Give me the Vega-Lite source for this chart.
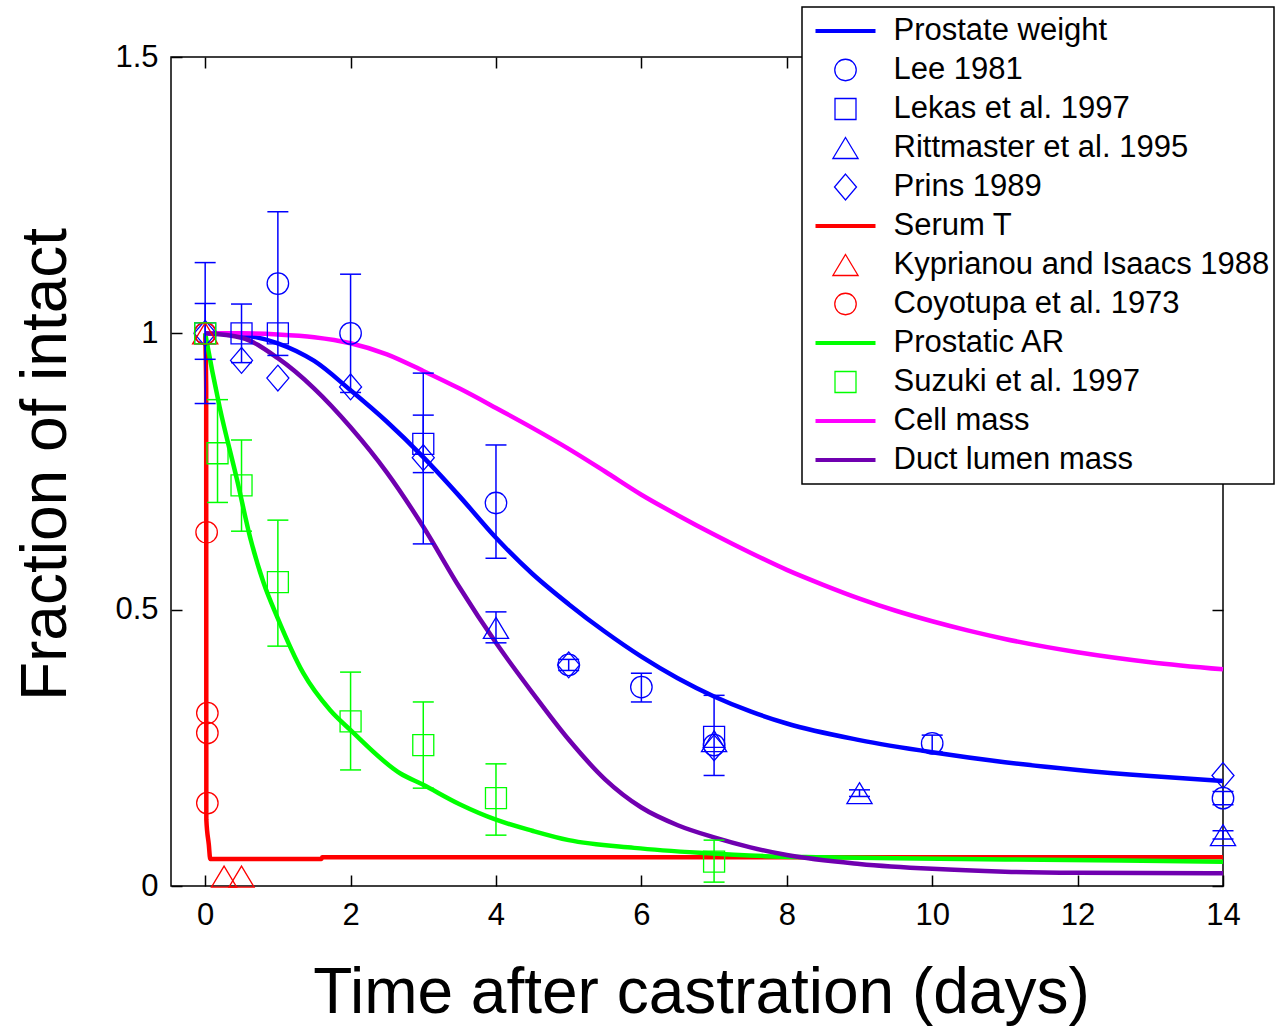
{
  "$schema": "https://vega.github.io/schema/vega-lite/v6.json",
  "width": 1052,
  "height": 829,
  "autosize": {"type": "none"},
  "padding": {"left": 171, "top": 57, "right": 58, "bottom": 140},
  "background": "white",
  "config": {
    "view": {"stroke": "black", "strokeWidth": 1.5},
    "axis": {
      "grid": false, "domain": false, "tickColor": "black", "tickWidth": 1.5, "tickSize": -11,
      "labelColor": "black", "labelFont": "Liberation Sans", "labelFontSize": 31,
      "labelFlush": false, "labelOverlap": false,
      "titleFont": "Liberation Sans", "titleFontSize": 64, "titleFontWeight": "normal", "titleColor": "black"
    },
    "legend": {
      "padding": 4.5, "strokeColor": "black", "strokeWidth": 1.5, "fillColor": "white",
      "symbolSize": 3600, "symbolStrokeWidth": 1.3, "symbolOffset": 8, "labelOffset": 17,
      "clipHeight": 39, "rowPadding": 0, "labelFont": "Liberation Sans", "labelFontSize": 31,
      "labelColor": "black", "labelLimit": 600
    }
  },
  "datasets": {
    "curves": [
      {"series": "Prostate weight", "t": 0, "v": 1},
      {"series": "Prostate weight", "t": 0.5, "v": 0.997},
      {"series": "Prostate weight", "t": 1, "v": 0.982},
      {"series": "Prostate weight", "t": 1.5, "v": 0.95},
      {"series": "Prostate weight", "t": 2, "v": 0.897},
      {"series": "Prostate weight", "t": 2.5, "v": 0.84},
      {"series": "Prostate weight", "t": 3, "v": 0.776},
      {"series": "Prostate weight", "t": 3.5, "v": 0.705},
      {"series": "Prostate weight", "t": 4, "v": 0.63},
      {"series": "Prostate weight", "t": 4.5, "v": 0.565},
      {"series": "Prostate weight", "t": 5, "v": 0.51},
      {"series": "Prostate weight", "t": 5.5, "v": 0.46},
      {"series": "Prostate weight", "t": 6, "v": 0.415},
      {"series": "Prostate weight", "t": 6.5, "v": 0.376},
      {"series": "Prostate weight", "t": 7, "v": 0.343},
      {"series": "Prostate weight", "t": 7.5, "v": 0.316},
      {"series": "Prostate weight", "t": 8, "v": 0.294},
      {"series": "Prostate weight", "t": 9, "v": 0.264},
      {"series": "Prostate weight", "t": 10, "v": 0.242},
      {"series": "Prostate weight", "t": 11, "v": 0.224},
      {"series": "Prostate weight", "t": 12, "v": 0.21},
      {"series": "Prostate weight", "t": 13, "v": 0.199},
      {"series": "Prostate weight", "t": 14, "v": 0.19},
      {"series": "Serum T", "t": 0, "v": 1},
      {"series": "Serum T", "t": 0.014, "v": 0.9},
      {"series": "Serum T", "t": 0.016, "v": 0.12},
      {"series": "Serum T", "t": 0.05, "v": 0.075},
      {"series": "Serum T", "t": 0.07, "v": 0.049},
      {"series": "Serum T", "t": 1.6, "v": 0.049},
      {"series": "Serum T", "t": 1.61, "v": 0.052},
      {"series": "Serum T", "t": 14, "v": 0.052},
      {"series": "Prostatic AR", "t": 0, "v": 1},
      {"series": "Prostatic AR", "t": 0.1, "v": 0.93},
      {"series": "Prostatic AR", "t": 0.2, "v": 0.866},
      {"series": "Prostatic AR", "t": 0.44, "v": 0.734},
      {"series": "Prostatic AR", "t": 0.62, "v": 0.63},
      {"series": "Prostatic AR", "t": 0.8, "v": 0.55},
      {"series": "Prostatic AR", "t": 0.99, "v": 0.487},
      {"series": "Prostatic AR", "t": 1.35, "v": 0.385},
      {"series": "Prostatic AR", "t": 1.72, "v": 0.318},
      {"series": "Prostatic AR", "t": 2, "v": 0.282},
      {"series": "Prostatic AR", "t": 2.68, "v": 0.204},
      {"series": "Prostatic AR", "t": 3, "v": 0.183},
      {"series": "Prostatic AR", "t": 3.5, "v": 0.148},
      {"series": "Prostatic AR", "t": 4, "v": 0.12},
      {"series": "Prostatic AR", "t": 4.5, "v": 0.1},
      {"series": "Prostatic AR", "t": 5, "v": 0.083},
      {"series": "Prostatic AR", "t": 5.9, "v": 0.069},
      {"series": "Prostatic AR", "t": 6.8, "v": 0.06},
      {"series": "Prostatic AR", "t": 7.7, "v": 0.054},
      {"series": "Prostatic AR", "t": 8.5, "v": 0.052},
      {"series": "Prostatic AR", "t": 9.5, "v": 0.05},
      {"series": "Prostatic AR", "t": 11, "v": 0.048},
      {"series": "Prostatic AR", "t": 12.6, "v": 0.046},
      {"series": "Prostatic AR", "t": 14, "v": 0.044},
      {"series": "Cell mass", "t": 0, "v": 1},
      {"series": "Cell mass", "t": 0.5, "v": 1},
      {"series": "Cell mass", "t": 1, "v": 0.998},
      {"series": "Cell mass", "t": 1.5, "v": 0.993},
      {"series": "Cell mass", "t": 2, "v": 0.982},
      {"series": "Cell mass", "t": 2.5, "v": 0.962},
      {"series": "Cell mass", "t": 3, "v": 0.932},
      {"series": "Cell mass", "t": 3.5, "v": 0.9},
      {"series": "Cell mass", "t": 4, "v": 0.865},
      {"series": "Cell mass", "t": 4.5, "v": 0.829},
      {"series": "Cell mass", "t": 5, "v": 0.791},
      {"series": "Cell mass", "t": 5.5, "v": 0.75},
      {"series": "Cell mass", "t": 6, "v": 0.708},
      {"series": "Cell mass", "t": 6.5, "v": 0.671},
      {"series": "Cell mass", "t": 7, "v": 0.636},
      {"series": "Cell mass", "t": 7.5, "v": 0.603},
      {"series": "Cell mass", "t": 8, "v": 0.572},
      {"series": "Cell mass", "t": 8.5, "v": 0.545},
      {"series": "Cell mass", "t": 9, "v": 0.52},
      {"series": "Cell mass", "t": 9.5, "v": 0.498},
      {"series": "Cell mass", "t": 10, "v": 0.479},
      {"series": "Cell mass", "t": 10.5, "v": 0.462},
      {"series": "Cell mass", "t": 11, "v": 0.447},
      {"series": "Cell mass", "t": 12, "v": 0.423},
      {"series": "Cell mass", "t": 13, "v": 0.405},
      {"series": "Cell mass", "t": 14, "v": 0.392},
      {"series": "Duct lumen mass", "t": 0, "v": 1},
      {"series": "Duct lumen mass", "t": 0.5, "v": 0.992},
      {"series": "Duct lumen mass", "t": 1, "v": 0.955},
      {"series": "Duct lumen mass", "t": 1.5, "v": 0.9},
      {"series": "Duct lumen mass", "t": 2, "v": 0.83},
      {"series": "Duct lumen mass", "t": 2.5, "v": 0.748},
      {"series": "Duct lumen mass", "t": 3, "v": 0.65},
      {"series": "Duct lumen mass", "t": 3.5, "v": 0.54},
      {"series": "Duct lumen mass", "t": 4, "v": 0.44},
      {"series": "Duct lumen mass", "t": 4.5, "v": 0.35},
      {"series": "Duct lumen mass", "t": 5, "v": 0.265},
      {"series": "Duct lumen mass", "t": 5.5, "v": 0.193},
      {"series": "Duct lumen mass", "t": 6, "v": 0.142},
      {"series": "Duct lumen mass", "t": 6.5, "v": 0.11},
      {"series": "Duct lumen mass", "t": 7, "v": 0.088},
      {"series": "Duct lumen mass", "t": 7.5, "v": 0.07},
      {"series": "Duct lumen mass", "t": 8, "v": 0.056},
      {"series": "Duct lumen mass", "t": 9, "v": 0.04},
      {"series": "Duct lumen mass", "t": 10, "v": 0.031},
      {"series": "Duct lumen mass", "t": 11, "v": 0.026},
      {"series": "Duct lumen mass", "t": 12, "v": 0.024},
      {"series": "Duct lumen mass", "t": 14, "v": 0.023}
    ],
    "errs": [
      {"series": "Lee 1981", "t": 0, "lo": 0.873, "hi": 1.128},
      {"series": "Lee 1981", "t": 1, "lo": 0.96, "hi": 1.22},
      {"series": "Lee 1981", "t": 2, "lo": 0.893, "hi": 1.107},
      {"series": "Lee 1981", "t": 4, "lo": 0.593, "hi": 0.798},
      {"series": "Lee 1981", "t": 5, "lo": 0.39, "hi": 0.41},
      {"series": "Lee 1981", "t": 6, "lo": 0.333, "hi": 0.385},
      {"series": "Lee 1981", "t": 10, "lo": 0.243, "hi": 0.273},
      {"series": "Lee 1981", "t": 14, "lo": 0.147, "hi": 0.171},
      {"series": "Lekas et al. 1997", "t": 0, "lo": 0.953, "hi": 1.054},
      {"series": "Lekas et al. 1997", "t": 0.5, "lo": 0.947, "hi": 1.053},
      {"series": "Lekas et al. 1997", "t": 3, "lo": 0.748, "hi": 0.852},
      {"series": "Lekas et al. 1997", "t": 7, "lo": 0.2, "hi": 0.345},
      {"series": "Prins 1989", "t": 3, "lo": 0.619, "hi": 0.928},
      {"series": "Rittmaster et al. 1995", "t": 4, "lo": 0.44, "hi": 0.496},
      {"series": "Rittmaster et al. 1995", "t": 9, "lo": 0.162, "hi": 0.174},
      {"series": "Rittmaster et al. 1995", "t": 14, "lo": 0.085, "hi": 0.1},
      {"series": "Suzuki et al. 1997", "t": 0.17, "lo": 0.694, "hi": 0.88},
      {"series": "Suzuki et al. 1997", "t": 0.5, "lo": 0.642, "hi": 0.807},
      {"series": "Suzuki et al. 1997", "t": 1, "lo": 0.434, "hi": 0.662},
      {"series": "Suzuki et al. 1997", "t": 2, "lo": 0.21, "hi": 0.387},
      {"series": "Suzuki et al. 1997", "t": 3, "lo": 0.177, "hi": 0.333},
      {"series": "Suzuki et al. 1997", "t": 4, "lo": 0.092, "hi": 0.221},
      {"series": "Suzuki et al. 1997", "t": 7, "lo": 0.007, "hi": 0.083}
    ],
    "points": [
      {"series": "Lee 1981", "t": 0, "v": 1},
      {"series": "Lee 1981", "t": 1, "v": 1.09},
      {"series": "Lee 1981", "t": 2, "v": 1},
      {"series": "Lee 1981", "t": 4, "v": 0.693},
      {"series": "Lee 1981", "t": 5, "v": 0.4},
      {"series": "Lee 1981", "t": 6, "v": 0.36},
      {"series": "Lee 1981", "t": 7, "v": 0.255},
      {"series": "Lee 1981", "t": 10, "v": 0.258},
      {"series": "Lee 1981", "t": 14, "v": 0.159},
      {"series": "Lekas et al. 1997", "t": 0, "v": 1},
      {"series": "Lekas et al. 1997", "t": 0.5, "v": 1},
      {"series": "Lekas et al. 1997", "t": 1, "v": 1},
      {"series": "Lekas et al. 1997", "t": 3, "v": 0.8},
      {"series": "Lekas et al. 1997", "t": 7, "v": 0.27},
      {"series": "Rittmaster et al. 1995", "t": 4, "v": 0.467},
      {"series": "Rittmaster et al. 1995", "t": 7, "v": 0.262},
      {"series": "Rittmaster et al. 1995", "t": 9, "v": 0.168},
      {"series": "Rittmaster et al. 1995", "t": 14, "v": 0.092},
      {"series": "Prins 1989", "t": 0, "v": 1},
      {"series": "Prins 1989", "t": 0.5, "v": 0.951},
      {"series": "Prins 1989", "t": 1, "v": 0.919},
      {"series": "Prins 1989", "t": 2, "v": 0.903},
      {"series": "Prins 1989", "t": 3, "v": 0.775},
      {"series": "Prins 1989", "t": 5, "v": 0.4},
      {"series": "Prins 1989", "t": 7, "v": 0.25},
      {"series": "Prins 1989", "t": 14, "v": 0.2},
      {"series": "Kyprianou and Isaacs 1988", "t": 0, "v": 1},
      {"series": "Kyprianou and Isaacs 1988", "t": 0.26, "v": 0.017},
      {"series": "Kyprianou and Isaacs 1988", "t": 0.5, "v": 0.017},
      {"series": "Coyotupa et al. 1973", "t": 0, "v": 1},
      {"series": "Coyotupa et al. 1973", "t": 0.02, "v": 0.64},
      {"series": "Coyotupa et al. 1973", "t": 0.03, "v": 0.313},
      {"series": "Coyotupa et al. 1973", "t": 0.03, "v": 0.277},
      {"series": "Coyotupa et al. 1973", "t": 0.03, "v": 0.15},
      {"series": "Suzuki et al. 1997", "t": 0, "v": 1},
      {"series": "Suzuki et al. 1997", "t": 0.17, "v": 0.783},
      {"series": "Suzuki et al. 1997", "t": 0.5, "v": 0.725},
      {"series": "Suzuki et al. 1997", "t": 1, "v": 0.55},
      {"series": "Suzuki et al. 1997", "t": 2, "v": 0.298},
      {"series": "Suzuki et al. 1997", "t": 3, "v": 0.255},
      {"series": "Suzuki et al. 1997", "t": 4, "v": 0.159},
      {"series": "Suzuki et al. 1997", "t": 7, "v": 0.044}
    ]
  },
  "layer": [
    {
      "data": {"name": "points"},
      "transform": [{"filter": "false"}],
      "mark": {"type": "point", "filled": false, "size": 3600, "strokeWidth": 1.3, "opacity": 1},
      "encoding": {
        "x": {"field": "t", "type": "quantitative",
          "scale": {"domain": [-0.47, 14], "nice": false, "zero": false},
          "axis": {"orient": "top", "labels": false, "title": null, "values": [0, 2, 4, 6, 8, 10, 12, 14]}},
        "y": {"field": "v", "type": "quantitative",
          "scale": {"domain": [0, 1.5], "nice": false, "zero": false},
          "axis": {"orient": "right", "labels": false, "title": null, "values": [0, 0.5, 1, 1.5]}},
        "color": {"field": "series", "type": "nominal",
          "scale": {
            "domain": ["Prostate weight", "Lee 1981", "Lekas et al. 1997", "Rittmaster et al. 1995", "Prins 1989", "Serum T", "Kyprianou and Isaacs 1988", "Coyotupa et al. 1973", "Prostatic AR", "Suzuki et al. 1997", "Cell mass", "Duct lumen mass"],
            "range": ["#0000FF", "#0000FF", "#0000FF", "#0000FF", "#0000FF", "#FF0000", "#FF0000", "#FF0000", "#00FF00", "#00FF00", "#FF00FF", "#7000B0"]},
          "legend": {"orient": "none", "legendX": 631, "legendY": -50, "title": null, "direction": "vertical"}},
        "shape": {"field": "series", "type": "nominal",
          "scale": {
            "domain": ["Prostate weight", "Lee 1981", "Lekas et al. 1997", "Rittmaster et al. 1995", "Prins 1989", "Serum T", "Kyprianou and Isaacs 1988", "Coyotupa et al. 1973", "Prostatic AR", "Suzuki et al. 1997", "Cell mass", "Duct lumen mass"],
            "range": [
              "M-1,-0.045L1,-0.045M-1,-0.015L1,-0.015M-1,0.015L1,0.015M-1,0.045L1,0.045",
              "M0.358,0C0.358,0.198,0.198,0.358,0,0.358C-0.198,0.358,-0.358,0.198,-0.358,0C-0.358,-0.198,-0.198,-0.358,0,-0.358C0.198,-0.358,0.358,-0.198,0.358,0Z",
              "M-0.35,-0.35L0.35,-0.35L0.35,0.35L-0.35,0.35Z",
              "M0,-0.35L0.42,0.35L-0.42,0.35Z",
              "M0,-0.43L0.367,0L0,0.43L-0.367,0Z",
              "M-1,-0.045L1,-0.045M-1,-0.015L1,-0.015M-1,0.015L1,0.015M-1,0.045L1,0.045",
              "M0,-0.35L0.42,0.35L-0.42,0.35Z",
              "M0.358,0C0.358,0.198,0.198,0.358,0,0.358C-0.198,0.358,-0.358,0.198,-0.358,0C-0.358,-0.198,-0.198,-0.358,0,-0.358C0.198,-0.358,0.358,-0.198,0.358,0Z",
              "M-1,-0.045L1,-0.045M-1,-0.015L1,-0.015M-1,0.015L1,0.015M-1,0.045L1,0.045",
              "M-0.35,-0.35L0.35,-0.35L0.35,0.35L-0.35,0.35Z",
              "M-1,-0.045L1,-0.045M-1,-0.015L1,-0.015M-1,0.015L1,0.015M-1,0.045L1,0.045",
              "M-1,-0.045L1,-0.045M-1,-0.015L1,-0.015M-1,0.015L1,0.015M-1,0.045L1,0.045"
            ]},
          "legend": {"orient": "none", "legendX": 631, "legendY": -50, "title": null, "direction": "vertical"}}
      }
    },
    {
      "data": {"name": "curves"},
      "mark": {"type": "line", "strokeWidth": 4.5, "interpolate": "monotone"},
      "encoding": {
        "x": {"field": "t", "type": "quantitative",
          "axis": {"orient": "bottom", "values": [0, 2, 4, 6, 8, 10, 12, 14], "labelPadding": 25,
            "title": "Time after castration (days)", "titleX": 530, "titleY": 126, "titleBaseline": "alphabetic"}},
        "y": {"field": "v", "type": "quantitative",
          "axis": {"orient": "left", "values": [0, 0.5, 1, 1.5], "format": "~g", "labelPadding": 24,
            "title": "Fraction of intact", "titleX": -106, "titleY": 407, "titleBaseline": "alphabetic"}},
        "color": {"field": "series", "type": "nominal", "legend": null}
      }
    },
    {
      "data": {"name": "errs"},
      "mark": {"type": "rule", "strokeWidth": 1.5},
      "encoding": {
        "x": {"field": "t", "type": "quantitative", "axis": null},
        "y": {"field": "lo", "type": "quantitative", "axis": null},
        "y2": {"field": "hi"},
        "color": {"field": "series", "type": "nominal", "legend": null}
      }
    },
    {
      "data": {"name": "errs"},
      "mark": {"type": "point", "shape": "stroke", "size": 441, "strokeWidth": 1.5, "opacity": 1, "filled": false},
      "encoding": {
        "x": {"field": "t", "type": "quantitative", "axis": null},
        "y": {"field": "hi", "type": "quantitative", "axis": null},
        "color": {"field": "series", "type": "nominal", "legend": null}
      }
    },
    {
      "data": {"name": "errs"},
      "mark": {"type": "point", "shape": "stroke", "size": 441, "strokeWidth": 1.5, "opacity": 1, "filled": false},
      "encoding": {
        "x": {"field": "t", "type": "quantitative", "axis": null},
        "y": {"field": "lo", "type": "quantitative", "axis": null},
        "color": {"field": "series", "type": "nominal", "legend": null}
      }
    },
    {
      "data": {"name": "points"},
      "mark": {"type": "point", "filled": false, "size": 3600, "strokeWidth": 1.3, "opacity": 1},
      "encoding": {
        "x": {"field": "t", "type": "quantitative", "axis": null},
        "y": {"field": "v", "type": "quantitative", "axis": null},
        "color": {"field": "series", "type": "nominal", "legend": null},
        "shape": {"field": "series", "type": "nominal", "legend": null}
      }
    }
  ]
}
